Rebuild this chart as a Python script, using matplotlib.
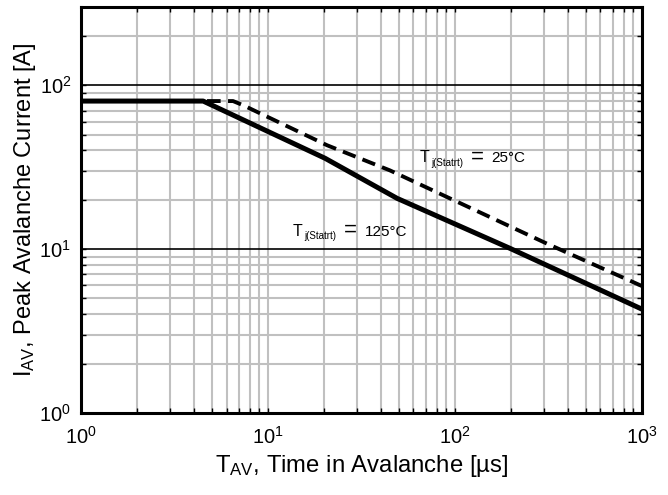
import matplotlib
matplotlib.use("Agg")
import matplotlib.pyplot as plt
from matplotlib.ticker import LogLocator, NullFormatter
from matplotlib.transforms import offset_copy

plt.rcParams['font.family'] = ['Liberation Sans', 'DejaVu Sans']
plt.rcParams['mathtext.fontset'] = 'custom'
plt.rcParams['mathtext.rm'] = 'Liberation Sans'
plt.rcParams['mathtext.it'] = 'Liberation Sans:italic'

# avalanche time [us] vs peak avalanche current [A]
t_125 = [1, 4.5, 20.2, 49, 197, 1000]
i_125 = [80, 80, 35.8, 20.4, 10.1, 4.3]

t_25 = [1, 6.5, 7.35, 20.7, 44.9, 310, 1000]
i_25 = [80, 80, 75.5, 43, 30.2, 10.8, 5.95]

x_ticks = [1, 10, 100, 1000]
x_labels = ['$10^{0}$', '$10^{1}$', '$10^{2}$', '$10^{3}$']
y_ticks = [1, 10, 100]
y_labels = ['$10^{0}$', '$10^{1}$', '$10^{2}$']

fig = plt.figure(figsize=(6.68, 4.95), dpi=100)
ax = fig.add_axes([0.1213, 0.1657, 0.961 - 0.1213, 0.9859 - 0.1657])

ax.set_xscale('log')
ax.set_yscale('log')
ax.set_xlim(1, 1000)
ax.set_ylim(1, 300)

ax.xaxis.set_minor_locator(LogLocator(base=10, subs=range(2, 10)))
ax.yaxis.set_minor_locator(LogLocator(base=10, subs=range(2, 10)))
ax.set_xticks(x_ticks)
ax.set_xticklabels(x_labels)
ax.set_yticks(y_ticks)
ax.set_yticklabels(y_labels)
ax.xaxis.set_minor_formatter(NullFormatter())
ax.yaxis.set_minor_formatter(NullFormatter())

ax.set_axisbelow(True)
ax.grid(which='both', axis='x', color='#c0c0c0', lw=1.5)
ax.grid(which='minor', axis='y', color='#c0c0c0', lw=1.5)
ax.grid(which='major', axis='y', color='black', lw=1.2)

ax.tick_params(which='both', direction='in', length=3.5, width=1,
               top=True, right=True, labelsize=14.5)
ax.tick_params(axis='x', which='major', pad=9)
ax.tick_params(axis='y', which='major', pad=7)

for s in ax.spines.values():
    s.set_linewidth(2.2)

ax.plot(t_125, i_125, color='black', lw=3.6, solid_joinstyle='round')
ax.plot(t_25, i_25, color='black', lw=2.8, ls=(0, (3.5, 1.9)))

def temp_label(x, y, value):
    ax.text(x, y, 'T', fontsize=11.5, va='baseline', ha='left')
    ax.text(x, y, 'j(Statrt)', fontsize=7, va='baseline', ha='left',
            transform=offset_copy(ax.transData, fig=fig, x=7.8, y=-2.5, units='points'))
    ax.text(x, y, '=', fontsize=16, va='baseline', ha='left',
            transform=offset_copy(ax.transData, fig=fig, x=36.5, y=0, units='points'))
    ax.text(x, y, value, fontsize=11, va='baseline', ha='left',
            transform=offset_copy(ax.transData, fig=fig, x=51.5, y=0, units='points'))

temp_label(65, 33.8, '25°C')
temp_label(13.6, 12.1, '125°C')

ax.set_xlabel('T$_{\\mathregular{AV}}$, Time in Avalanche [µs]', fontsize=17.2, labelpad=4)
ax.set_ylabel('I$_{\\mathregular{AV}}$, Peak Avalanche Current [A]', fontsize=17, labelpad=1)

fig.savefig('out.png', dpi=100)
